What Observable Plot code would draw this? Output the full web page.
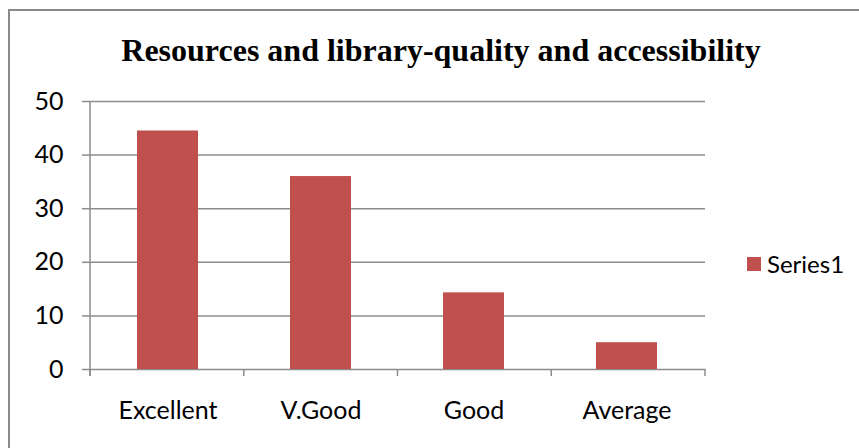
<!DOCTYPE html>
<html>
<head>
<meta charset="utf-8">
<script src="https://cdn.jsdelivr.net/npm/d3@7"></script>
<script src="https://cdn.jsdelivr.net/npm/@observablehq/plot@0.6"></script>
<style>
  html, body { margin: 0; padding: 0; background: #fff; }
  #wrap { position: relative; width: 859px; height: 448px; overflow: hidden; background: #fff; }
  #frame { position: absolute; left: 8px; top: 9px; width: 900px; height: 500px;
           border-left: 2px solid #8a8a8a; border-top: 2px solid #8a8a8a; }
  #chart { position: absolute; left: 0; top: 0; }
  #title { position: absolute; left: 0; width: 882px; top: 30px; text-align: center;
           font-family: "Liberation Serif", "Times New Roman", serif; font-weight: bold;
           font-size: 32px; line-height: 40px; color: #000; white-space: nowrap; }
  #legend { position: absolute; left: 747px; top: 249px; display: flex; align-items: center;
            font-family: Lato, sans-serif; font-size: 24px; color: #000; line-height: 30px; }
  #legend .sw { width: 14px; height: 14px; margin-right: 6px; }
</style>
</head>
<body>
<div id="wrap">
  <div id="frame"></div>
  <div id="chart"></div>
  <div id="title"></div>
  <div id="legend"><span class="sw"></span><span class="lab"></span></div>
</div>
<script>
const categories = ["Excellent", "V.Good", "Good", "Average"];
const values = [44.5, 36.0, 14.3, 5.0];
const yTicks = [0, 10, 20, 30, 40, 50];
const seriesName = "Series1";
const titleText = "Resources and library-quality and accessibility";
const barColor = "#C0504D";
const gridColor = "#8c8c8c";

const data = categories.map((c, i) => ({category: c, value: values[i]}));

const chart = Plot.plot({
  width: 859,
  height: 448,
  marginTop: 101,
  marginBottom: 79,
  marginLeft: 90,
  marginRight: 154,
  style: {fontFamily: "Lato, sans-serif", fontSize: "25px", color: "#000", background: "transparent"},
  x: {domain: categories, paddingInner: 0.6, paddingOuter: 0.3, label: null},
  y: {domain: [0, 50], label: null},
  marks: [
    Plot.ruleY(yTicks, {stroke: gridColor, strokeWidth: 1.5}),
    Plot.barY(data, {x: "category", y: "value", fill: barColor}),
    Plot.axisY({ticks: yTicks, tickSize: 8, tickPadding: 19, stroke: gridColor, strokeWidth: 1.5, fill: "#000", fontSize: 25, label: null}),
    Plot.axisX({tickSize: 0, tickPadding: 32, fill: "#000", fontSize: 25, label: null})
  ]
});

// y-axis line and category-boundary ticks from the library's scales
const xs = chart.scale("x");
const ys = chart.scale("y");
const [r0, r1] = xs.range;
const y0 = ys.apply(0);
const yTop = ys.apply(yTicks[yTicks.length - 1]);
const svg = d3.select(chart);
const g = svg.append("g").attr("stroke", gridColor).attr("stroke-width", 1.5);
g.append("line").attr("x1", r0).attr("x2", r0).attr("y1", yTop).attr("y2", y0 + 7);
const n = categories.length;
for (let i = 0; i <= n; i++) {
  const bx = r0 + i * (r1 - r0) / n;
  g.append("line").attr("x1", bx).attr("x2", bx).attr("y1", y0).attr("y2", y0 + 7);
}

document.getElementById("chart").appendChild(chart);
document.getElementById("title").textContent = titleText;
document.querySelector("#legend .sw").style.background = barColor;
document.querySelector("#legend .lab").textContent = seriesName;
</script>
</body>
</html>
